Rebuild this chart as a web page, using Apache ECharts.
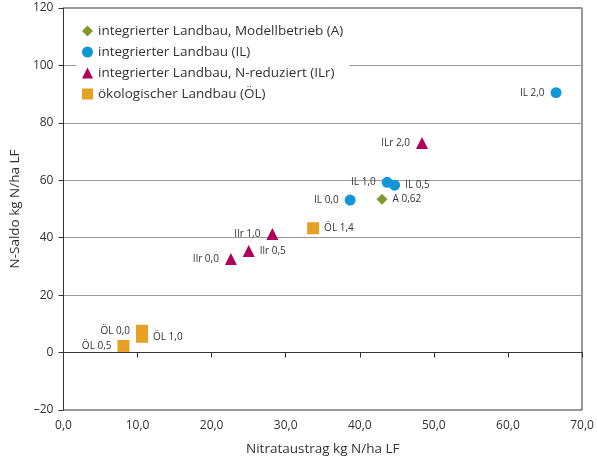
<!DOCTYPE html>
<html>
<head>
    <meta charset="utf-8">
    <title>N-Saldo und Nitrataustrag</title>
    <script src="https://cdn.jsdelivr.net/npm/echarts@6/dist/echarts.min.js"></script>
</head>
<body style="margin:0">
    <div id="main" style="width:597px;height:461px;"></div>
    <script type="text/javascript">
        // Daten
        var namesA = ['A 0,62'];
        var xA = [43.0];
        var yA = [53.4];

        var namesIL = ['IL 0,0', 'IL 0,5', 'IL 1,0', 'IL 2,0'];
        var xIL = [38.7, 44.7, 43.7, 66.5];
        var yIL = [53.1, 58.3, 59.3, 90.5];

        var namesILr = ['Ilr 0,0', 'Ilr 0,5', 'Ilr 1,0', 'ILr 2,0'];
        var xILr = [22.6, 25.0, 28.2, 48.4];
        var yILr = [32.6, 35.4, 41.3, 73.0];

        var namesOL = ['ÖL 0,0', 'ÖL 0,5', 'ÖL 1,0', 'ÖL 1,4'];
        var xOL = [10.6, 8.1, 10.6, 33.7];
        var yOL = [7.6, 2.3, 5.5, 43.3];

        var seriesNames = [
            'integrierter Landbau, Modellbetrieb (A)',
            'integrierter Landbau (IL)',
            'integrierter Landbau, N-reduziert (ILr)',
            'ökologischer Landbau (ÖL)'
        ];

        // welche Beschriftungen rechts vom Punkt stehen
        var rechts = ['A 0,62', 'IL 0,5', 'Ilr 0,5', 'ÖL 1,0', 'ÖL 1,4'];

        function punkte(names, xs, ys) {
            return names.map(function (n, i) {
                var r = rechts.indexOf(n) >= 0;
                return {
                    name: n,
                    value: [xs[i], ys[i]],
                    label: {position: r ? 'right' : 'left', distance: r ? 5 : 6}
                };
            });
        }

        var font = '"Open Sans", "Noto Sans", sans-serif';
        var lbl = {show: true, formatter: '{b}', color: '#333', fontSize: 10, fontFamily: font};

        var myChart = echarts.init(document.getElementById('main'));
        myChart.setOption({
            animation: false,
            grid: {left: 61, right: 15, top: 8, bottom: 49, show: true, borderColor: '#333', borderWidth: 1},
            legend: {
                orient: 'vertical',
                left: 76,
                top: 18,
                padding: [6, 6, 6, 6],
                itemGap: 7,
                itemWidth: 11,
                itemHeight: 11,
                backgroundColor: '#fff',
                textStyle: {color: '#333', fontSize: 13.5, fontFamily: font},
                data: [
                    {name: seriesNames[0], icon: 'diamond'},
                    {name: seriesNames[1], icon: 'circle'},
                    {name: seriesNames[2], icon: 'triangle'},
                    {name: seriesNames[3], icon: 'rect'}
                ]
            },
            xAxis: {
                type: 'value',
                min: 0, max: 70, interval: 10,
                name: 'Nitrataustrag kg N/ha LF',
                nameLocation: 'middle',
                nameGap: 32,
                nameTextStyle: {color: '#333', fontSize: 13.5, fontFamily: font},
                axisLine: {lineStyle: {color: '#333'}},
                axisTick: {show: true, length: 5, lineStyle: {color: '#333'}},
                axisLabel: {color: '#333', fontSize: 12, fontFamily: font, margin: 10,
                    formatter: function (v) { return v.toFixed(1).replace('.', ','); }},
                splitLine: {show: false}
            },
            yAxis: {
                type: 'value',
                min: -20, max: 120, interval: 20,
                name: 'N-Saldo kg N/ha LF',
                nameLocation: 'middle',
                nameGap: 36,
                nameTextStyle: {color: '#333', fontSize: 13.5, fontFamily: font},
                axisLine: {show: true, lineStyle: {color: '#333'}},
                axisTick: {show: true, length: 5, lineStyle: {color: '#333'}},
                axisLabel: {color: '#333', fontSize: 12, fontFamily: font, margin: 10,
                    formatter: function (v) { return v < 0 ? '\u2013' + Math.abs(v) : String(v); }},
                splitLine: {show: true, lineStyle: {color: '#9a9a9a', width: 1}}
            },
            series: [
                {
                    name: seriesNames[1], type: 'scatter', symbol: 'circle', symbolSize: 11,
                    itemStyle: {color: '#1196d8', opacity: 1}, label: lbl,
                    data: punkte(namesIL, xIL, yIL)
                },
                {
                    name: seriesNames[0], type: 'scatter', symbol: 'diamond', symbolSize: 11,
                    itemStyle: {color: '#7e9a2c', opacity: 1}, label: lbl,
                    data: punkte(namesA, xA, yA)
                },
                {
                    name: seriesNames[2], type: 'scatter', symbol: 'triangle', symbolSize: 12,
                    itemStyle: {color: '#b0005a', opacity: 1}, label: lbl,
                    data: punkte(namesILr, xILr, yILr)
                },
                {
                    name: seriesNames[3], type: 'scatter', symbol: 'rect', symbolSize: 12,
                    itemStyle: {color: '#e8a024', opacity: 1}, label: lbl,
                    data: punkte(namesOL, xOL, yOL)
                }
            ]
        });
    </script>
</body>
</html>
